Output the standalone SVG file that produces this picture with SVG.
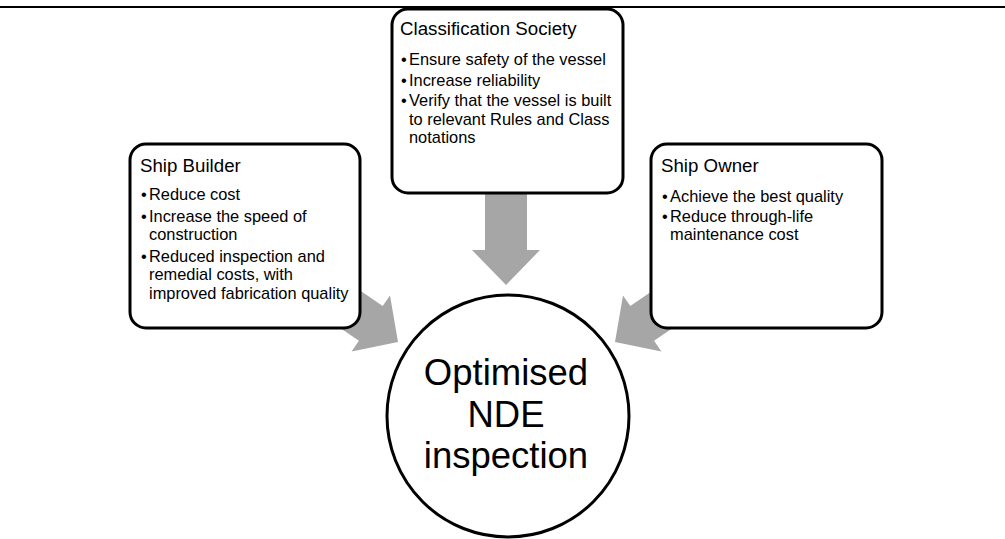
<svg xmlns="http://www.w3.org/2000/svg" width="1005" height="539" viewBox="0 0 1005 539">
<style>
.box{fill:#fff;stroke:#000;stroke-width:3}
.arr{fill:#a6a6a6;stroke:none}
.t{font-family:"Liberation Sans",Arial,sans-serif;fill:#000}
.title{font-size:18.7px}
.body{font-size:16.4px}
.big{font-size:36.5px;text-anchor:middle}
</style>
<rect width="1005" height="539" fill="#fff"/>
<line x1="0" y1="7" x2="1005" y2="7" stroke="#000" stroke-width="2"/>
<g id="connectors">
<polygon class="arr" points="276.4,284.2 300.2,249.6 382.7,306.1 390,295.4 398,342 351.6,351.4 358.9,340.7"/>
<polygon class="arr" points="736.6,284.2 712.8,249.6 630.3,306.1 623,295.4 615,342 661.4,351.4 654.1,340.7"/>
<polygon class="arr" points="485,185 527,185 527,250 540,250 506,285 472,250 485,250"/>
</g>
<g id="ship-builder">
<rect class="box" x="130" y="144" width="230" height="184" rx="16"/>
<text class="t title" x="140" y="172">Ship Builder</text>
<text class="t body" x="141" y="200">•<tspan x="149">Reduce cost</tspan></text>
<text class="t body" x="141" y="222">•<tspan x="149">Increase the speed of</tspan></text>
<text class="t body" x="149" y="240">construction</text>
<text class="t body" x="141" y="262">•<tspan x="149">Reduced inspection and</tspan></text>
<text class="t body" x="149" y="280">remedial costs, with</text>
<text class="t body" x="149" y="299">improved fabrication quality</text>
</g>
<g id="classification-society">
<rect class="box" x="392" y="9" width="231" height="184" rx="16"/>
<text class="t title" x="400" y="35">Classification Society</text>
<text class="t body" x="401" y="65">•<tspan x="409">Ensure safety of the vessel</tspan></text>
<text class="t body" x="401" y="86">•<tspan x="409">Increase reliability</tspan></text>
<text class="t body" x="401" y="106">•<tspan x="409">Verify that the vessel is built</tspan></text>
<text class="t body" x="409" y="125">to relevant Rules and Class</text>
<text class="t body" x="409" y="143">notations</text>
</g>
<g id="ship-owner">
<rect class="box" x="651" y="144" width="231" height="184" rx="16"/>
<text class="t title" x="661" y="172">Ship Owner</text>
<text class="t body" x="662" y="202">•<tspan x="670">Achieve the best quality</tspan></text>
<text class="t body" x="662" y="222">•<tspan x="670">Reduce through-life</tspan></text>
<text class="t body" x="670" y="240">maintenance cost</text>
</g>
<g id="optimised-nde">
<circle cx="508" cy="416" r="121" fill="#fff" stroke="#000" stroke-width="3"/>
<text class="t big" x="506" y="385">Optimised</text>
<text class="t big" x="506" y="427">NDE</text>
<text class="t big" x="506" y="468">inspection</text>
</g>
</svg>
